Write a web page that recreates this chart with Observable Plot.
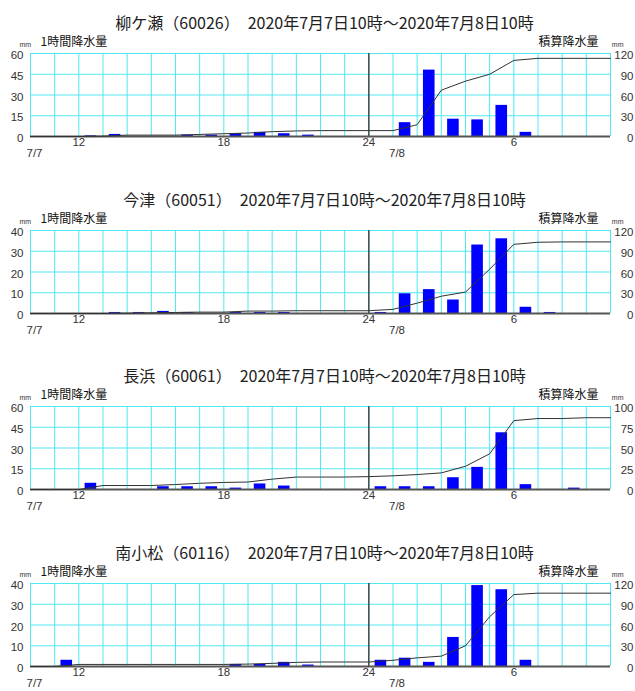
<!DOCTYPE html>
<html>
<head>
<meta charset="utf-8">
<script src="https://cdn.jsdelivr.net/npm/d3@7"></script>
<script src="https://cdn.jsdelivr.net/npm/@observablehq/plot@0.6"></script>
<style>
  html, body { margin: 0; padding: 0; background: #fff; width: 635px; height: 691px; overflow: hidden; }
  .panel { position: absolute; left: 0; }
</style>
</head>
<body>
<div id="root"></div>
<script>
// ---- data (hourly columns: 7/7 10時 … 7/8 10時) ----
const stations = ["柳ケ瀬（60026）", "今津（60051）", "長浜（60061）", "南小松（60116）"];
const period = "2020年7月7日10時～2020年7月8日10時";

// 1時間降水量 (mm), 24 hourly values per station
const hourly1 = [0, 0, 0.5, 1.5, 0, 0, 1, 1, 2, 3, 2, 1, 0, 0, 0, 10, 48, 12.5, 12, 22.5, 3, 0, 0, 0];
const hourly2 = [0, 0, 0, 0.5, 0.5, 1, 0.5, 0, 0.5, 0.5, 0.5, 0, 0, 0, 0.5, 9.5, 11.5, 6.5, 33, 36, 3, 0.5, 0, 0];
const hourly3 = [0, 0, 4.5, 0, 0, 2, 2, 2, 1, 4, 2.5, 0, 0, 0, 2, 2, 2, 8.5, 16, 41, 3.5, 0, 1, 0];
const hourly4 = [0, 3, 0, 0, 0, 0, 0, 0, 1, 1, 2, 0.7, 0, 0, 3, 4, 2, 14, 39, 37, 3, 0, 0, 0];

// 積算降水量 (mm), 25 values at the hour boundaries
const cum1 = [0, 0, 0, 0.5, 2, 2, 2, 3, 4, 5, 7, 8, 8.5, 8.5, 8.5, 8.5, 17, 67, 80, 90, 110, 113, 113, 113, 113];
const cum2 = [0, 0, 0, 0, 0.5, 1, 1.5, 2, 2, 3.5, 3.5, 4, 4, 4, 4, 6, 15, 25, 31, 64, 100, 103, 103.5, 103.5, 103.5];
const cum3 = [0, 0, 0, 4.8, 4.8, 4.8, 6, 7.5, 8.5, 9, 12.5, 15, 15, 15, 15.5, 16.5, 18, 20, 28, 43, 83, 85.5, 85.5, 86.5, 86.5];
const cum4 = [0, 0, 3, 3, 3, 3, 3, 3, 3, 3.5, 4.5, 6, 6.5, 6.5, 6.5, 9, 12.5, 15, 30, 72, 104, 106, 106, 106, 106];

// axis ticks
const leftTicks1 = [0, 15, 30, 45, 60];
const leftTicks2 = [0, 10, 20, 30, 40];
const rightTicks1 = [0, 30, 60, 90, 120];
const rightTicks3 = [0, 25, 50, 75, 100];
const xTickHours = [2, 8, 14, 20];
const xTickLabels = ["12", "18", "24", "6"];
const dateHours = [0, 15];
const dateLabels = ["7/7", "7/8"];
const gridHours = d3.range(0, 25);
const midnightHour = 14;

const panels = [
  {name: stations[0], hourly: hourly1, cum: cum1, left: leftTicks1, right: rightTicks1},
  {name: stations[1], hourly: hourly2, cum: cum2, left: leftTicks2, right: rightTicks1},
  {name: stations[2], hourly: hourly3, cum: cum3, left: leftTicks1, right: rightTicks3},
  {name: stations[3], hourly: hourly4, cum: cum4, left: leftTicks2, right: rightTicks1}
];
const tops = [0, 177, 353, 530];

const GRID = "#50e8f2";
const root = document.getElementById("root");

panels.forEach((p, k) => {
  const lMax = p.left[p.left.length - 1];
  const rMax = p.right[p.right.length - 1];
  const f = lMax / rMax;
  const bars = p.hourly.map((v, i) => ({i, v}));
  const line = p.cum.map((v, i) => ({i, v: v * f}));
  const xt = xTickHours.map((h, i) => ({h, t: xTickLabels[i]}));
  const dt = dateHours.map((h, i) => ({h, t: dateLabels[i]}));

  const chart = Plot.plot({
    width: 635,
    height: 164,
    marginLeft: 30,
    marginRight: 25,
    marginTop: 53,
    marginBottom: 28,
    style: {fontFamily: "'Liberation Sans', Arial, sans-serif", fontSize: "11.5px", color: "#333", background: "white", overflow: "visible"},
    x: {domain: [0, 24], axis: null},
    y: {domain: [0, lMax], axis: null},
    marks: [
      Plot.gridX(gridHours, {stroke: GRID, strokeOpacity: 1, strokeWidth: 1}),
      Plot.gridY(p.left, {stroke: GRID, strokeOpacity: 1, strokeWidth: 1}),
      Plot.rectY(bars, {x1: d => d.i + 0.26, x2: d => d.i + 0.74, y: "v", fill: "#0000ff"}),
      Plot.ruleX([midnightHour], {stroke: "#333", strokeWidth: 1.3}),
      Plot.ruleY([0], {stroke: "#555", strokeWidth: 2}),
      Plot.line(line, {x: "i", y: "v", stroke: "#333", strokeWidth: 1}),
      Plot.axisY(p.left, {anchor: "left", tickSize: 0, tickPadding: 7, dy: 2, label: null}),
      Plot.axisY(p.left, {anchor: "right", tickSize: 0, tickPadding: 2, dx: 21, dy: 2, textAnchor: "end", label: null,
        tickFormat: d => Math.round(d / f)}),
      Plot.text(xt, {x: "h", text: "t", frameAnchor: "bottom", dy: 9}),
      Plot.text(dt, {x: "h", text: "t", frameAnchor: "bottom", dy: 20, textAnchor: "start", dx: -4}),
      Plot.text([p.name + "　" + period], {frameAnchor: "top", dy: -36, dx: 4, fontSize: 16,
        fontFamily: "'Noto Sans CJK JP', sans-serif", fill: "#222"}),
      Plot.text(["1時間降水量"], {frameAnchor: "top-left", dx: 10, dy: -16, textAnchor: "start", fontSize: 12,
        fontFamily: "'Noto Sans CJK JP', sans-serif", fill: "#111"}),
      Plot.text(["積算降水量"], {frameAnchor: "top-right", dx: -12, dy: -16, textAnchor: "end", fontSize: 12,
        fontFamily: "'Noto Sans CJK JP', sans-serif", fill: "#111"}),
      Plot.text(["mm"], {frameAnchor: "top-left", dx: -11, dy: -11, fontSize: 7, fill: "#333"}),
      Plot.text(["mm"], {frameAnchor: "top-right", dx: 13, dy: -11, fontSize: 7, fill: "#333"})
    ]
  });
  const div = document.createElement("div");
  div.className = "panel";
  div.style.top = tops[k] + "px";
  div.appendChild(chart);
  root.appendChild(div);
});
</script>
</body>
</html>
